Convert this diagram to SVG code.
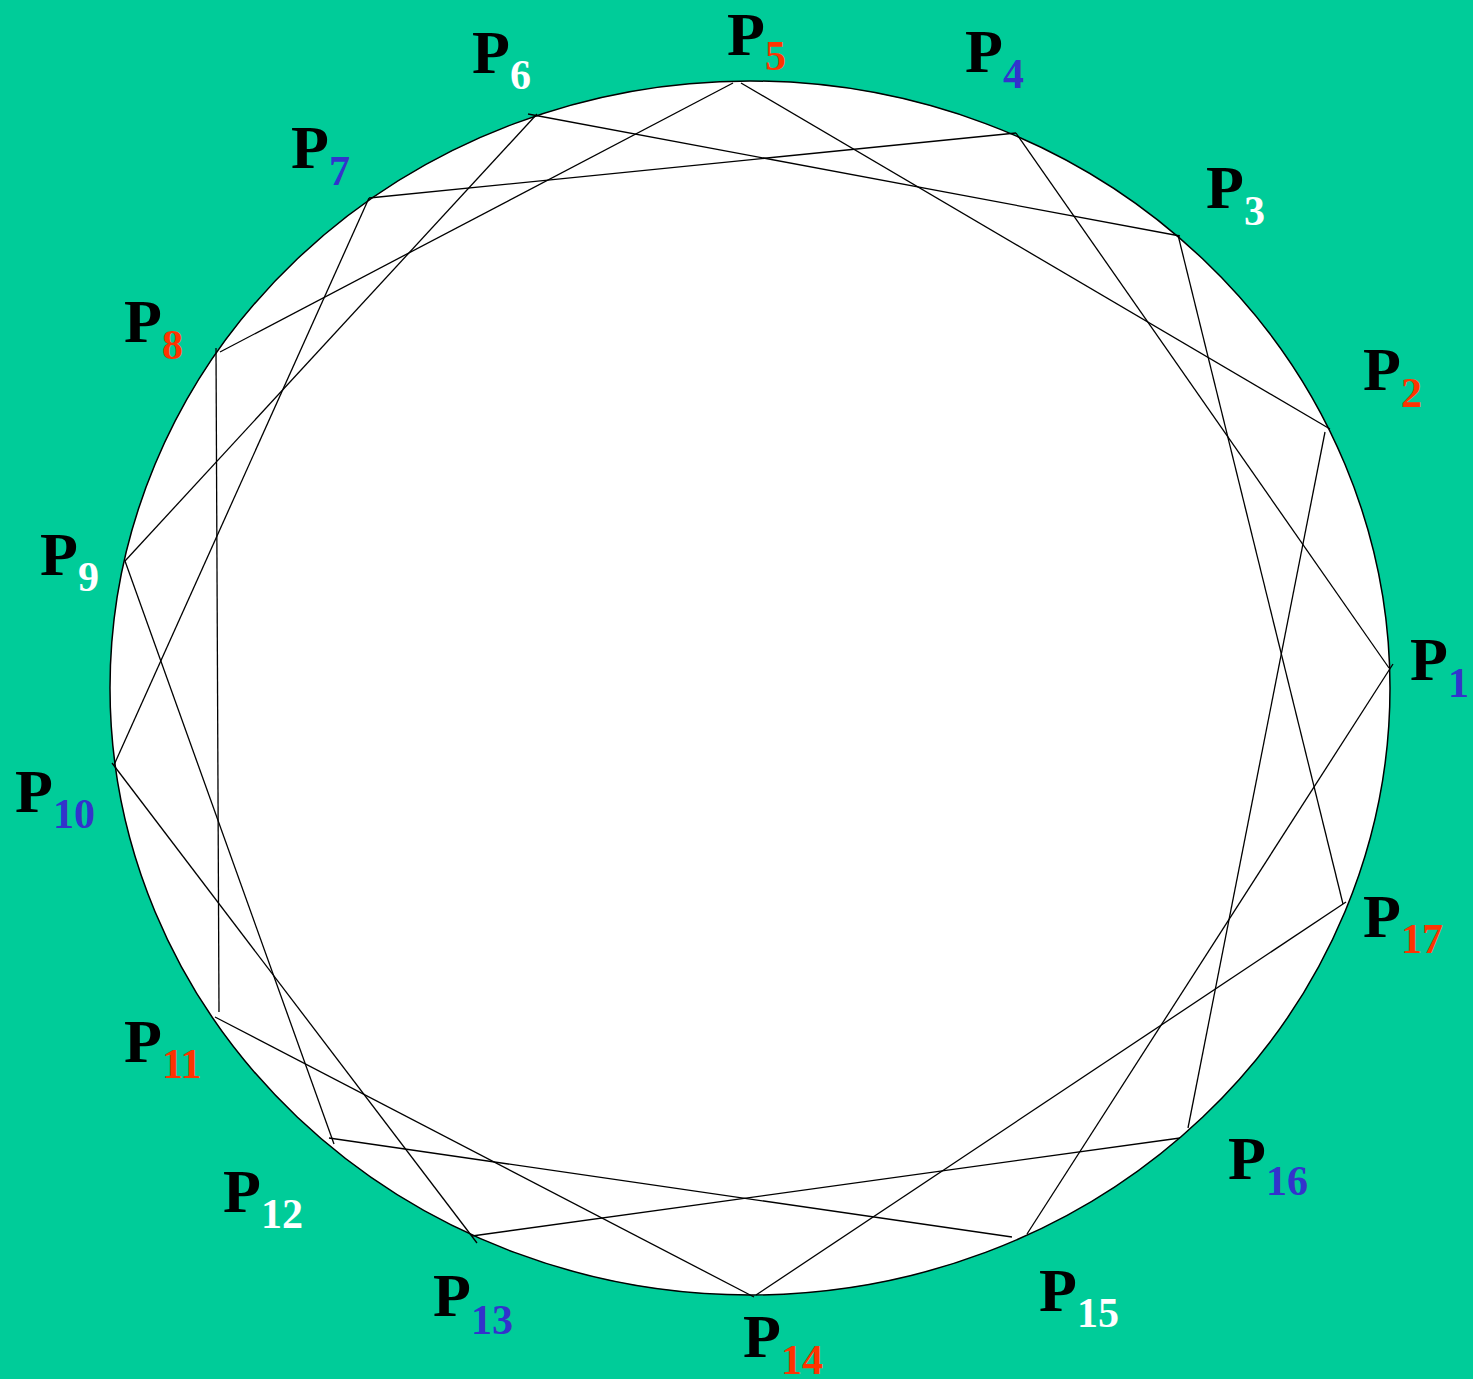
<svg xmlns="http://www.w3.org/2000/svg" width="1473" height="1379" viewBox="0 0 1473 1379">
<style>
.lbl{font-family:"Liberation Serif","Times New Roman",serif;font-weight:bold;font-size:62px;fill:#000}
.sub{font-size:42px}
.r{fill:#FF3300}.b{fill:#3333CC}.w{fill:#FFFFFF}
.e line{stroke:#000;stroke-width:1.3}
</style>
<rect width="1473" height="1379" fill="#00CC99"/>
<g id="circle"><ellipse cx="750" cy="688" rx="640" ry="607" fill="#FFFFFF" stroke="#000" stroke-width="1.5"/></g>
<g id="connectors" class="e">
<line x1="1016" y1="133" x2="1389" y2="668"/>
<line x1="1393" y1="664" x2="1027" y2="1234"/>
<line x1="741" y1="83" x2="1330" y2="429"/>
<line x1="1325" y1="432" x2="1188" y2="1128"/>
<line x1="528" y1="114" x2="1180" y2="236"/>
<line x1="1178" y1="235" x2="1343" y2="904"/>
<line x1="369" y1="198" x2="1016" y2="133"/>
<line x1="733" y1="83" x2="220" y2="352"/>
<line x1="537" y1="114" x2="125" y2="561"/>
<line x1="369" y1="198" x2="114" y2="765"/>
<line x1="216" y1="348" x2="219" y2="1012"/>
<line x1="125" y1="561" x2="334" y2="1144"/>
<line x1="112" y1="763" x2="477" y2="1243"/>
<line x1="215" y1="1017" x2="754" y2="1297"/>
<line x1="329" y1="1138" x2="1012" y2="1237"/>
<line x1="472" y1="1236" x2="1180" y2="1138"/>
<line x1="756" y1="1295" x2="1346" y2="902"/>
</g>
<g id="P1"><text class="lbl" x="1410" y="680">P<tspan class="sub b" dy="17">1</tspan></text></g>
<g id="P2"><text class="lbl" x="1363" y="390">P<tspan class="sub r" dy="17">2</tspan></text></g>
<g id="P3"><text class="lbl" x="1206" y="208">P<tspan class="sub w" dy="17">3</tspan></text></g>
<g id="P4"><text class="lbl" x="965" y="72">P<tspan class="sub b" dy="16">4</tspan></text></g>
<g id="P5"><text class="lbl" x="727" y="55">P<tspan class="sub r" dy="15">5</tspan></text></g>
<g id="P6"><text class="lbl" x="472" y="73">P<tspan class="sub w" dy="16">6</tspan></text></g>
<g id="P7"><text class="lbl" x="291" y="168">P<tspan class="sub b" dy="17">7</tspan></text></g>
<g id="P8"><text class="lbl" x="124" y="342">P<tspan class="sub r" dy="17">8</tspan></text></g>
<g id="P9"><text class="lbl" x="40" y="575">P<tspan class="sub w" dy="16">9</tspan></text></g>
<g id="P10"><text class="lbl" x="15" y="812">P<tspan class="sub b" dy="16">10</tspan></text></g>
<g id="P11"><text class="lbl" x="124" y="1062">P<tspan class="sub r" dy="16">11</tspan></text></g>
<g id="P12"><text class="lbl" x="223" y="1212">P<tspan class="sub w" dy="16">12</tspan></text></g>
<g id="P13"><text class="lbl" x="433" y="1316">P<tspan class="sub b" dy="18">13</tspan></text></g>
<g id="P14"><text class="lbl" x="743" y="1357">P<tspan class="sub r" dy="17">14</tspan></text></g>
<g id="P15"><text class="lbl" x="1039" y="1311">P<tspan class="sub w" dy="16">15</tspan></text></g>
<g id="P16"><text class="lbl" x="1228" y="1179">P<tspan class="sub b" dy="16">16</tspan></text></g>
<g id="P17"><text class="lbl" x="1363" y="937">P<tspan class="sub r" dy="16">17</tspan></text></g>
</svg>
